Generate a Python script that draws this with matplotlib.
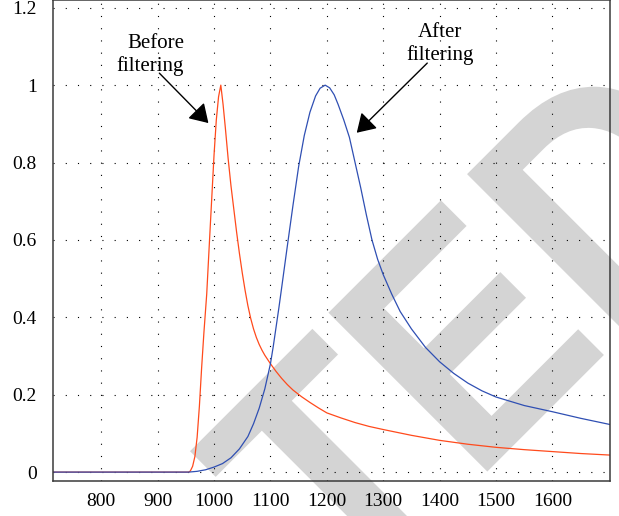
import matplotlib
matplotlib.use('Agg')
import matplotlib.pyplot as plt
from matplotlib.textpath import TextPath
from matplotlib.patches import PathPatch
from matplotlib.font_manager import FontProperties
from matplotlib.transforms import Affine2D

plt.rcParams.update({'font.family': 'Liberation Serif'})

# curves
before_x = [715, 955, 958, 962, 966, 970, 974, 978, 982, 987, 992, 996, 1000, 1004,
            1008, 1012, 1016, 1020, 1025, 1030, 1035, 1040, 1045, 1050, 1055, 1060,
            1065, 1070, 1075, 1080, 1085, 1090, 1100, 1110, 1120, 1130, 1140, 1155, 1170,
            1185, 1200, 1225, 1250, 1275, 1300, 1350, 1400, 1450, 1500, 1550, 1600,
            1650, 1702]
before_y = [0, 0, 0.003, 0.015, 0.04, 0.09, 0.17, 0.27, 0.36, 0.46, 0.60, 0.71, 0.82, 0.91,
            0.97, 1.0, 0.95, 0.89, 0.81, 0.74, 0.68, 0.62, 0.565, 0.515, 0.47, 0.43,
            0.397, 0.37, 0.348, 0.33, 0.315, 0.302, 0.28, 0.26, 0.242, 0.226, 0.212, 0.195, 0.18,
            0.166, 0.153, 0.14, 0.128, 0.118, 0.11, 0.095, 0.082, 0.072, 0.064, 0.058, 0.053,
            0.048, 0.044]

after_x = [715, 955, 970, 985, 1000, 1015, 1030, 1045, 1060, 1070, 1080, 1090, 1100,
           1105, 1110, 1115, 1120, 1130, 1140, 1150, 1160, 1170, 1180, 1188, 1197, 1205, 1213,
           1220, 1230, 1240, 1250, 1260, 1270, 1280, 1290, 1300, 1315, 1330, 1350,
           1375, 1400, 1425, 1450, 1475, 1500, 1550, 1600, 1650, 1702]
after_y = [0, 0, 0.002, 0.006, 0.013, 0.022, 0.037, 0.06, 0.092, 0.125, 0.165, 0.215, 0.28,
           0.325, 0.375, 0.425, 0.478, 0.585, 0.69, 0.79, 0.87, 0.93, 0.972, 0.992, 1.0, 0.993, 0.975,
           0.95, 0.91, 0.865, 0.80, 0.735, 0.665, 0.60, 0.55, 0.51, 0.46, 0.415, 0.37,
           0.322, 0.285, 0.255, 0.23, 0.21, 0.194, 0.172, 0.156, 0.139, 0.123]

x_ticks = [800, 900, 1000, 1100, 1200, 1300, 1400, 1500, 1600]
y_ticks = [0, 0.2, 0.4, 0.6, 0.8, 1.0, 1.2]
y_labels = ['0', '0.2', '0.4', '0.6', '0.8', '1', '1.2']

fig = plt.figure(figsize=(6.19, 5.16), dpi=100)
ax = fig.add_axes([53.3 / 619, 1 - 481 / 516, (610 - 53.3) / 619, 481 / 516])
ax.patch.set_facecolor('none')

# grey watermark letters behind the axes
tp = TextPath((0, 0), 'TED', size=326.5,
              prop=FontProperties(family='Liberation Sans', weight='bold'))
wm = Affine2D().scale(0.9, 1.0).translate(-188, -678).rotate_deg(45).translate(0, 516)
fig.add_artist(PathPatch(tp, transform=wm, facecolor='#d4d4d4', edgecolor='none', zorder=-1))

ax.plot(before_x, before_y, color='#ff4a1c', lw=0.9)
ax.plot(after_x, after_y, color='#2f4fb3', lw=0.9)

ax.set_xlim(715, 1702)
ax.set_ylim(-0.023, 1.22)
ax.set_xticks(x_ticks)
ax.set_yticks(y_ticks)
ax.set_yticklabels(y_labels)
ax.tick_params(length=0, labelsize=14)
ax.tick_params(axis='y', pad=12)
ax.tick_params(axis='x', pad=9)
ax.grid(True, color='black', linestyle=(0, (1, 10)), lw=0.8)
for s in ax.spines.values():
    s.set_color('#3a3a3a')
    s.set_linewidth(1.1)

arrow = dict(arrowstyle='-|>,head_length=0.8,head_width=0.5', color='black',
             lw=1.0, mutation_scale=14, shrinkA=0, shrinkB=0)
ax.annotate('', xy=(990, 0.902), xytext=(903, 1.031), arrowprops=arrow)
ax.annotate('', xy=(1253, 0.877), xytext=(1378, 1.057), arrowprops=arrow)
ax.text(947, 1.077, 'Before\nfiltering', ha='right', va='center', fontsize=15,
        multialignment='right', linespacing=1.2)
ax.text(1401, 1.106, 'After\nfiltering', ha='center', va='center', fontsize=15,
        multialignment='center', linespacing=1.2)

fig.savefig('out.png', dpi=100)
